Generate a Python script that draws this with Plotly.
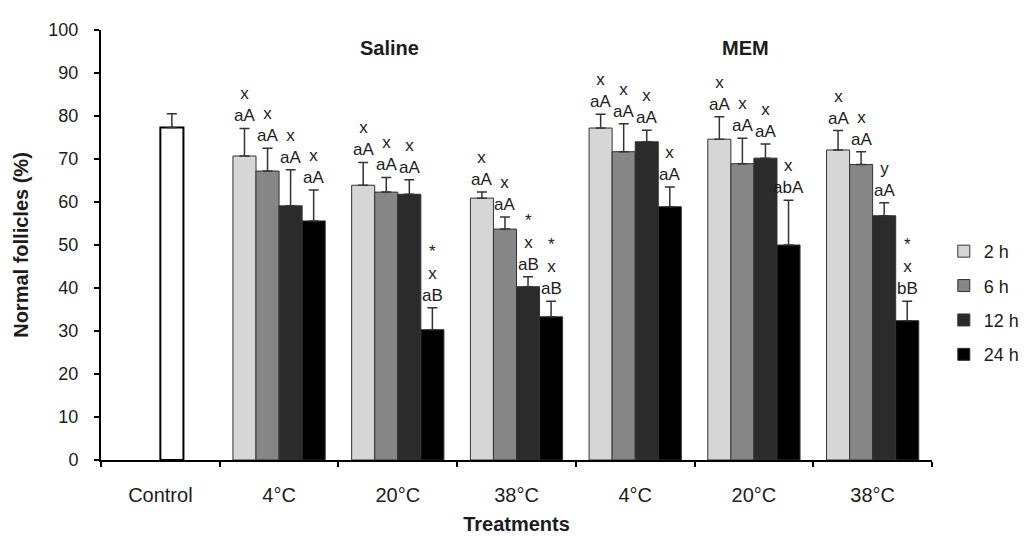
import plotly.graph_objects as go

# ---------------- data ----------------
group_labels = ["Control", "4°C", "20°C", "38°C", "4°C", "20°C", "38°C"]
series_names = ["2 h", "6 h", "12 h", "24 h"]

control_mean = [77.3]
control_se = [3.2]

# treatment groups: Saline 4, 20, 38 °C ; MEM 4, 20, 38 °C
h2_mean = [70.7, 63.9, 60.9, 77.2, 74.6, 72.1]
h6_mean = [67.2, 62.3, 53.7, 71.7, 68.9, 68.7]
h12_mean = [59.1, 61.8, 40.3, 74.0, 70.2, 56.8]
h24_mean = [55.6, 30.3, 33.3, 58.9, 50.0, 32.4]

h2_se = [6.4, 5.3, 1.4, 3.2, 5.2, 4.5]
h6_se = [5.3, 3.4, 2.8, 6.5, 5.9, 3.0]
h12_se = [8.4, 3.4, 2.3, 2.7, 3.3, 3.0]
h24_se = [7.2, 5.1, 3.6, 4.6, 10.4, 4.5]

h2_lab = ["x<br>aA", "x<br>aA", "x<br>aA", "x<br>aA", "x<br>aA", "x<br>aA"]
h6_lab = ["x<br>aA", "x<br>aA", "x<br>aA", "x<br>aA", "x<br>aA", "x<br>aA"]
h12_lab = ["x<br>aA", "x<br>aA", "*<br>x<br>aB", "x<br>aA", "x<br>aA", "y<br>aA"]
h24_lab = ["x<br>aA", "*<br>x<br>aB", "*<br>x<br>aB", "x<br>aA", "x<br>abA", "*<br>x<br>bB"]

medium_labels = ["Saline", "MEM"]

colors = ["#d6d6d6", "#868686", "#2b2b2b", "#000000"]

FONT = "Arial, Liberation Sans, sans-serif"
TXT = "#1c1c1c"
BARGAP = 0.223

means = [h2_mean, h6_mean, h12_mean, h24_mean]
ses = [h2_se, h6_se, h12_se, h24_se]
labs = [h2_lab, h6_lab, h12_lab, h24_lab]
gx = list(range(1, len(group_labels)))

fig = go.Figure()
for k, name in enumerate(series_names):
    fig.add_trace(go.Bar(
        x=gx, y=means[k], name=name, offsetgroup=name, legendgroup=name,
        marker=dict(color=colors[k], line=dict(color="#333333", width=1)),
        error_y=dict(type="data", array=ses[k], arrayminus=[0] * len(ses[k]),
                     symmetric=False, color="#333333", thickness=1.5, width=5),
    ))

# control bar sits in the 12 h slot
fig.add_trace(go.Bar(
    x=[0], y=control_mean, name="Control", offsetgroup="12 h", showlegend=False,
    marker=dict(color="white", line=dict(color="#000000", width=2)),
    error_y=dict(type="data", array=control_se, arrayminus=[0], symmetric=False,
                 color="#333333", thickness=1.5, width=5),
))

w = (1 - BARGAP) / 4
for k in range(4):
    for i, g in enumerate(gx):
        fig.add_annotation(
            x=g + (k - 1.5) * w, y=means[k][i] + ses[k][i], text=labs[k][i],
            showarrow=False, yanchor="bottom", xanchor="center", yshift=1,
            font=dict(family=FONT, size=17, color=TXT),
        )

for j, m in enumerate(medium_labels):
    fig.add_annotation(
        x=2 + 3 * j - 0.07, y=95.8, text="<b>%s</b>" % m, showarrow=False,
        font=dict(family=FONT, size=20, color=TXT),
    )

fig.update_layout(
    width=1029, height=536,
    margin=dict(l=91, r=91, t=22, b=78),
    paper_bgcolor="white", plot_bgcolor="white",
    barmode="group", bargap=BARGAP, bargroupgap=0,
    font=dict(family=FONT, size=18, color=TXT),
    showlegend=True,
    legend=dict(x=1.0142, xanchor="left", y=0.528, yanchor="top",
                tracegroupgap=8, font=dict(size=18, color=TXT),
                bgcolor="rgba(0,0,0,0)"),
    xaxis=dict(
        range=[-0.5, 6.5], tickmode="array", tickvals=list(range(len(group_labels))),
        ticktext=group_labels, ticks="outside", ticklen=0, ticklabelstandoff=16,
        tickfont=dict(size=20, color=TXT),
        showline=True, linecolor="#000000", linewidth=2, showgrid=False, zeroline=False,
        minor=dict(tickmode="array", tickvals=[i - 0.5 for i in range(len(group_labels) + 1)],
                   ticks="outside", ticklen=5, tickwidth=2, tickcolor="#000000"),
        title=dict(text="<b>Treatments</b>", font=dict(size=20, color=TXT), standoff=12),
    ),
    yaxis=dict(
        range=[0, 100], tickmode="linear", tick0=0, dtick=10,
        ticks="outside", ticklen=5, tickwidth=2, tickcolor="#000000",
        ticklabelstandoff=12, tickfont=dict(size=18, color=TXT),
        showline=True, linecolor="#000000", linewidth=2, showgrid=False, zeroline=False,
        title=dict(text="<b>Normal follicles (%)</b>", font=dict(size=20, color=TXT),
                   standoff=14),
    ),
)

fig.write_html("out.html")
